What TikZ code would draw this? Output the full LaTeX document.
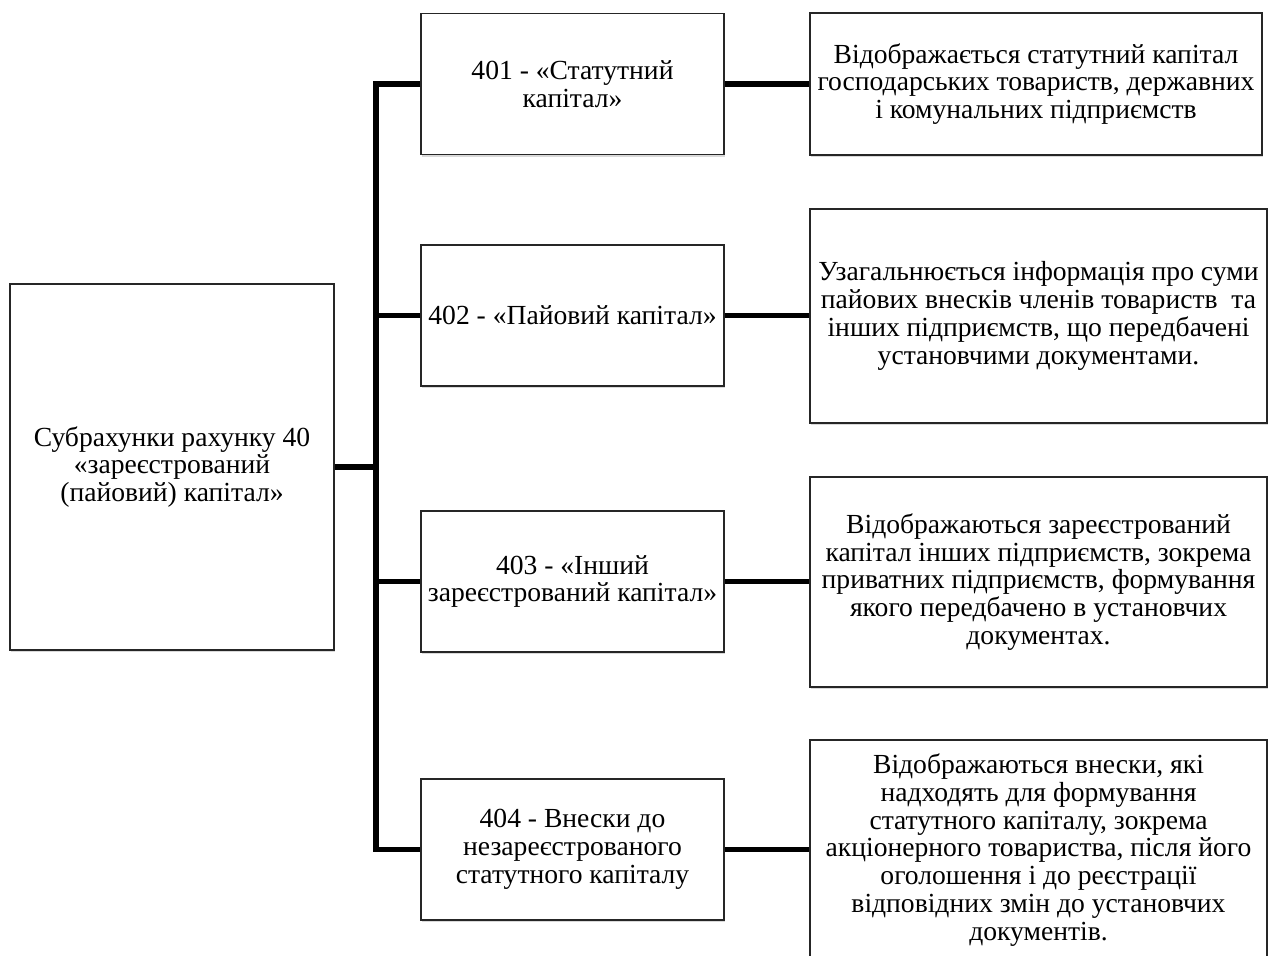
\documentclass[tikz,border=0pt]{standalone}
\usepackage{fontspec}
\setmainfont{Liberation Serif}
\usetikzlibrary{positioning,shadows}

\begin{document}
\begin{tikzpicture}[
  x=0.5pt, y=-0.5pt,
  box/.style={draw=black!85, line width=0.8pt, fill=white, align=center, inner sep=1.5pt, font=\fontsize{13.8}{13.9}\selectfont, drop shadow={shadow xshift=0.6pt, shadow yshift=-1.2pt, opacity=0.3}},
  srcbox/.style={box, minimum width=162pt, minimum height=183pt},
  midbox/.style={box, minimum width=151.5pt, minimum height=70.5pt},
  notebox/.style={box, minimum width=228.5pt},
  link/.style={line width=2.6pt, black}
]
\useasboundingbox (0,0) rectangle (1268,955);

\node[srcbox] (src) at (172,467) {Субрахунки рахунку 40\\«зареєстрований\\(пайовий) капітал»};

\node[midbox] (b401) at (572.5,84) {401 - «Статутний\\капітал»};
\node[midbox] (b402) at (572.5,315.5) {402 - «Пайовий капітал»};
\node[midbox] (b403) at (572.5,581.5) {403 - «Інший\\зареєстрований капітал»};
\node[midbox] (b404) at (572.5,849.5) {404 - Внески до\\незареєстрованого\\статутного капіталу};

\node[notebox, minimum width=226pt, minimum height=71pt] (r1) at (1036,84) {Відображається статутний капітал\\господарських товариств, державних\\і комунальних підприємств};
\node[notebox, minimum height=107pt] (r2) at (1038.5,316) {Узагальнюється інформація про суми\\пайових внесків членів товариств\ \ та\\інших підприємств, що передбачені\\установчими документами.};
\node[notebox, minimum height=105pt] (r3) at (1038.5,582) {Відображаються зареєстрований\\капітал інших підприємств, зокрема\\приватних підприємств, формування\\якого передбачено в установчих\\документах.};
\node[notebox, minimum height=110pt] (r4) at (1038.5,850) {Відображаються внески, які\\надходять для формування\\статутного капіталу, зокрема\\акціонерного товариства, після його\\оголошення і до реєстрації\\відповідних змін до установчих\\документів.};

% bus
\coordinate (bus) at (376,467);
\draw[link] (src.east) -- (src.east -| bus);
\draw[link] (b401.west) -- (b401.west -| bus) |- (b404.west);
\draw[link] (b402.west) -- (b402.west -| bus);
\draw[link] (b403.west) -- (b403.west -| bus);

% explanations
\draw[link] (b401.east) -- (b401.east -| r1.west);
\draw[link] (b402.east) -- (b402.east -| r2.west);
\draw[link] (b403.east) -- (b403.east -| r3.west);
\draw[link] (b404.east) -- (b404.east -| r4.west);

\end{tikzpicture}
\end{document}
